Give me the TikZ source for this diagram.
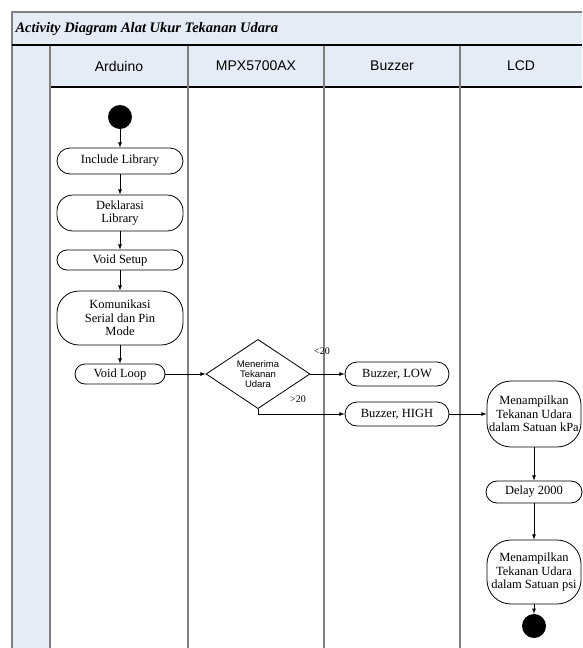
\documentclass[tikz,border=0pt]{standalone}
\usepackage{fontspec}
\setmainfont{Liberation Serif}
\setsansfont{Liberation Sans}
\usepackage{tikz}
\usetikzlibrary{shapes.geometric}
\definecolor{bandblue}{RGB}{228,236,247}
\definecolor{lanegray}{RGB}{128,128,128}
\tikzstyle{act} = [rectangle, draw, thick, fill=white, rounded corners=12pt,
                 align=center, inner sep=2pt, font=\fontsize{12.5}{13.5}\selectfont]
\tikzstyle{dot} = [circle, fill=black, minimum size=24pt, inner sep=0pt]
\tikzstyle{flow} = [draw, thick, ->, >=latex]
\tikzstyle{lane} = [draw=lanegray, line width=1.6pt]
\tikzstyle{guard} = [font=\fontsize{10}{10}\selectfont, inner sep=1pt]

\begin{document}
\begin{tikzpicture}[x=1pt,y=-1pt]
\useasboundingbox (0,0) rectangle (582,648);

% frame and bands
\fill[bandblue] (12,12) rectangle (582,87);
\fill[bandblue] (12,87) rectangle (50,648);
\draw[lanegray, line width=1.4pt] (582,12) -- (12,12) -- (12,648);
\draw[line width=1.6pt] (12,45) -- (582,45);
\draw[line width=1.6pt] (50,87) -- (582,87);
\node[anchor=west, font=\bfseries\itshape\fontsize{14.5}{15}\selectfont] (title) at (12,29)
	{Activity Diagram Alat Ukur Tekanan Udara};

% lanes
\foreach \x in {50,188,324,460}
	\draw[lane] (\x,46) -- (\x,648);
\foreach \x/\lname in {119/Arduino, 256/MPX5700AX, 392/Buzzer, 521/LCD}
	\node[font=\sffamily\fontsize{14}{14}\selectfont] (h\lname) at (\x,66) {\lname};

% Arduino
\node [dot] (start) at (120,117) {};
\node [act, minimum width=126pt, minimum height=26pt, rounded corners=13pt] (incl) at (120,161) {Include Library};
\node [act, minimum width=126pt, minimum height=36pt, rounded corners=16pt] (dekl) at (120,213) {Deklarasi\\Library};
\node [act, minimum width=126pt, minimum height=20pt, rounded corners=10pt] (setup) at (120,260) {Void Setup};
\node [act, minimum width=126pt, minimum height=54pt, rounded corners=22pt] (komu) at (120,318) {Komunikasi\\Serial dan Pin\\Mode};
\node [act, minimum width=90pt, minimum height=20pt, rounded corners=10pt] (loop) at (120,374) {Void Loop};

% MPX5700AX
\node [diamond, draw, thick, fill=white, inner sep=0pt, minimum width=104pt, minimum height=66pt,
	align=center, font=\sffamily\fontsize{9.5}{10}\selectfont] (terima) at (258,374) {Menerima\\Tekanan\\Udara};

% Buzzer
\node [act, minimum width=104pt, minimum height=24pt] (low) at (397,374) {Buzzer, LOW};
\node [act, minimum width=104pt, minimum height=24pt] (high) at (397,414) {Buzzer, HIGH};

% LCD
\node [act, minimum width=94pt, minimum height=66pt, rounded corners=24pt] (kpa) at (534,414) {Menampilkan\\Tekanan Udara\\dalam Satuan kPa};
\node [act, minimum width=96pt, minimum height=22pt, rounded corners=11pt] (delay) at (534,492) {Delay 2000};
\node [act, minimum width=94pt, minimum height=64pt, rounded corners=24pt] (psi) at (534,572) {Menampilkan\\Tekanan Udara\\dalam Satuan psi};
\node [dot] (stop) at (534,626) {};

% flows
\path [flow] (start) -- (incl);
\path [flow] (incl) -- (dekl);
\path [flow] (dekl) -- (setup);
\path [flow] (setup) -- (komu);
\path [flow] (komu) -- (loop);
\path [flow] (loop) -- (terima);
\path [flow] (terima.east) -- (low);
\path [flow] (terima.south) |- (high);
\path [flow] (high) -- (kpa);
\path [flow] (kpa) -- (delay);
\path [flow] (delay) -- (psi);
\path [flow] (psi) -- (stop);

\node [guard] (gurlow) at (322,351) {<20};
\node [guard] (gurhigh) at (298,399) {>20};

\end{tikzpicture}
\end{document}
